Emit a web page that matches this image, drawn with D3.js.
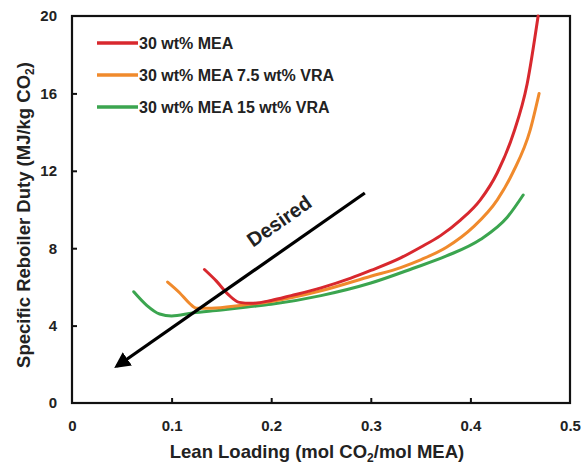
<!DOCTYPE html>
<html><head><meta charset="utf-8">
<script src="https://cdn.jsdelivr.net/npm/d3@7"></script>
<style>body{margin:0;background:#fff}svg{display:block}text{font-family:"Liberation Sans",Arial,sans-serif;font-weight:bold;fill:#222}</style>
</head><body><svg id="c" width="583" height="465"></svg>
<script>
const seriesNames = ["30 wt% MEA", "30 wt% MEA 7.5 wt% VRA", "30 wt% MEA 15 wt% VRA"];
const seriesColors = ["#d8282e", "#f08a2c", "#3ba54f"];
const redX = [0.133, 0.145, 0.157, 0.168, 0.18, 0.2, 0.22, 0.25, 0.28, 0.3, 0.33, 0.35, 0.37, 0.39, 0.41, 0.427, 0.443, 0.457, 0.468];
const redY = [6.9, 6.3, 5.6, 5.2, 5.15, 5.3, 5.55, 5.95, 6.45, 6.85, 7.5, 8.05, 8.65, 9.45, 10.5, 11.9, 13.9, 16.5, 20];
const orangeX = [0.096, 0.108, 0.118, 0.125, 0.14, 0.17, 0.2, 0.25, 0.3, 0.33, 0.35, 0.376, 0.403, 0.427, 0.443, 0.46, 0.469];
const orangeY = [6.25, 5.7, 5.15, 4.9, 4.9, 5.05, 5.25, 5.8, 6.55, 7.0, 7.4, 8.05, 9.1, 10.5, 11.95, 14.1, 16.0];
const greenX = [0.062, 0.075, 0.088, 0.1, 0.121, 0.15, 0.176, 0.2, 0.25, 0.3, 0.342, 0.376, 0.41, 0.437, 0.453];
const greenY = [5.75, 5.05, 4.6, 4.5, 4.65, 4.8, 4.96, 5.1, 5.55, 6.2, 6.95, 7.6, 8.45, 9.6, 10.75];
const xTicks = [0, 0.1, 0.2, 0.3, 0.4, 0.5];
const yTicks = [0, 4, 8, 12, 16, 20];
const arrowFrom = [0.294, 10.85];
const arrowTo = [0.045, 1.9];
const annotation = "Desired";
const annotationAt = [0.208, 9.4];

const svg = d3.select("#c");
const m = {l:72, r:13, t:16, b:62};
const W = 583, H = 465;
const x = d3.scaleLinear().domain([0,0.5]).range([m.l, W-m.r]);
const y = d3.scaleLinear().domain([0,20]).range([H-m.b, m.t]);

// axes (inward ticks)
const xa = svg.append("g").attr("transform",`translate(0,${y(0)})`)
  .call(d3.axisBottom(x).tickValues(xTicks).tickSize(-5).tickFormat(d=>d===0?"0":d3.format(".1f")(d)).tickPadding(17));
const ya = svg.append("g").attr("transform",`translate(${x(0)},0)`)
  .call(d3.axisLeft(y).tickValues(yTicks).tickSize(-5).tickPadding(15));
[xa,ya].forEach(g=>{
  g.select(".domain").remove();
  g.selectAll(".tick line").attr("stroke","#111").attr("stroke-width",2);
  g.selectAll(".tick text").style("font-size","15px").style("font-family","Liberation Sans, Arial, sans-serif").style("font-weight","bold").attr("fill","#222");
});
xa.selectAll(".tick").filter(d=>d===0||d===0.5).select("line").remove();
ya.selectAll(".tick").filter(d=>d===0||d===20).select("line").remove();

svg.append("rect").attr("x",x(0)).attr("y",y(20)).attr("width",x(0.5)-x(0)).attr("height",y(0)-y(20))
  .attr("fill","none").attr("stroke","#111").attr("stroke-width",2.2);

// series
const line = d3.line().x(d=>x(d[0])).y(d=>y(d[1])).curve(d3.curveMonotoneX);
const series = [[redX,redY],[orangeX,orangeY],[greenX,greenY]];
[2,1,0].forEach(i=>{
  const pts = series[i][0].map((v,j)=>[v, series[i][1][j]]);
  svg.append("path").datum(pts).attr("d",line).attr("fill","none")
    .attr("stroke",seriesColors[i]).attr("stroke-width",3).attr("stroke-linecap","round").attr("stroke-linejoin","round");
});

// arrow
svg.append("defs").append("marker").attr("id","ah").attr("viewBox","0 0 10 10").attr("refX",8).attr("refY",5)
  .attr("markerWidth",5).attr("markerHeight",5).attr("orient","auto")
  .append("path").attr("d","M0,0 L10,5 L0,10 z").attr("fill","#000");
svg.append("line").attr("x1",x(arrowFrom[0])).attr("y1",y(arrowFrom[1])).attr("x2",x(arrowTo[0])).attr("y2",y(arrowTo[1]))
  .attr("stroke","#000").attr("stroke-width",3.2).attr("marker-end","url(#ah)");
const ang = Math.atan2(y(arrowFrom[1])-y(arrowTo[1]), x(arrowFrom[0])-x(arrowTo[0]))*180/Math.PI;
svg.append("text").attr("transform",`translate(${x(annotationAt[0])},${y(annotationAt[1])}) rotate(${ang})`)
  .attr("text-anchor","middle").attr("dy","0.35em").style("font-size","20px").attr("fill","#111").text(annotation);

// legend
seriesNames.forEach((n,i)=>{
  const yy = 43 + i*32;
  svg.append("line").attr("x1",97).attr("x2",138).attr("y1",yy).attr("y2",yy).attr("stroke",seriesColors[i]).attr("stroke-width",3.5);
  svg.append("text").attr("x",139).attr("y",yy).attr("dy","0.35em").style("font-size","16px").text(n);
});

// axis titles
const xt = svg.append("text").attr("x",317).attr("y",458).attr("text-anchor","middle").style("font-size","18.5px");
xt.append("tspan").text("Lean Loading (mol CO");
xt.append("tspan").attr("dy","4").style("font-size","12px").text("2");
xt.append("tspan").attr("dy","-4").text("/mol MEA)");
const yt = svg.append("text").attr("transform","translate(24,215) rotate(-90)").attr("text-anchor","middle").attr("dy","0.35em").style("font-size","18.5px");
yt.append("tspan").text("Specific Reboiler Duty (MJ/kg CO");
yt.append("tspan").attr("dy","4").style("font-size","12px").text("2");
yt.append("tspan").attr("dy","-4").text(")");
</script></body></html>
